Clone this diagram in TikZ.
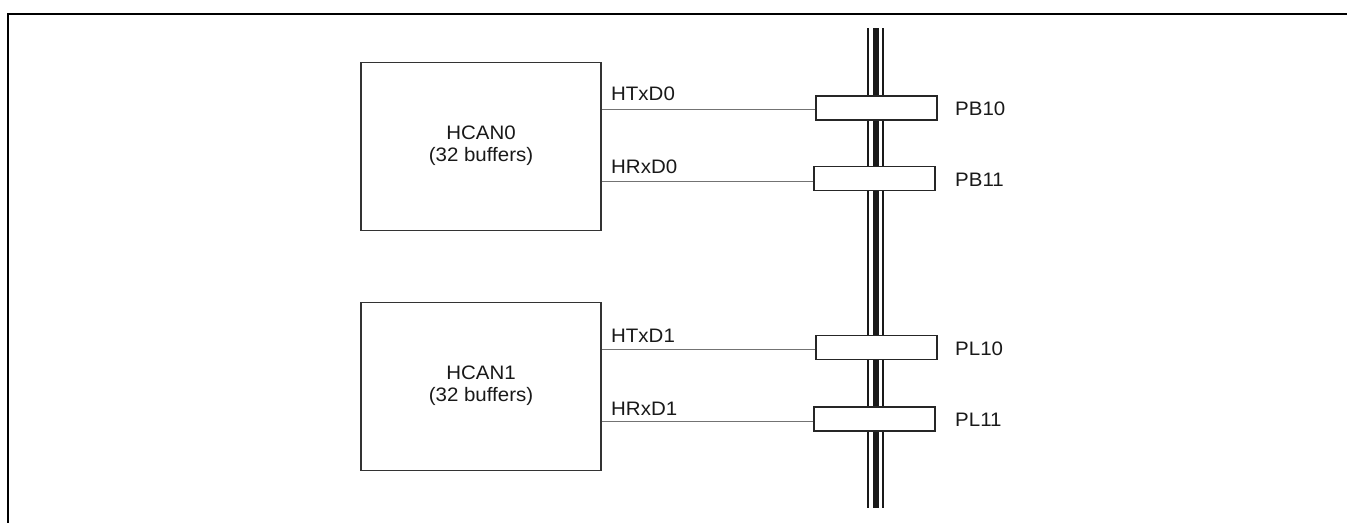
\documentclass[tikz,border=0pt]{standalone}
\usepackage{fontspec}
\setmainfont[FakeStretch=1.05]{Liberation Sans}
\begin{document}
\begin{tikzpicture}[x=1pt,y=-1pt,
  lbl/.style={font=\fontsize{19.5}{22}\selectfont, inner sep=0pt, text=black!90},
  canbox/.style={draw=black!80, line width=1.3pt, minimum width=240pt, minimum height=168pt, align=center, inner sep=0pt, font=\fontsize{19.5}{22}\selectfont, text=black!90},
  pinbox/.style={draw=black!85, fill=white, line width=1.3pt, minimum width=121pt, minimum height=24pt, inner sep=0pt},
  sig/.style={draw=black!55, line width=1pt},
  frameline/.style={line width=2pt, black}]
\useasboundingbox (0,0) rectangle (1347,523);
% frame
\coordinate (ftl) at (8,14);
\coordinate (ftr) at (1347,14);
\coordinate (fbl) at (8,523);
\draw[frameline] (ftr) -- (7,14);
\draw[frameline] (ftl) -- (fbl);
% bus
\coordinate (bt) at (875.8,28);
\coordinate (bb) at (875.8,508);
\draw[line width=1.9pt, black!90] ([xshift=-7.4pt]bt) -- ([xshift=-7.4pt]bb);
\draw[line width=6pt, black!90] (bt) -- (bb);
\draw[line width=1.9pt, black!90] ([xshift=7pt]bt) -- ([xshift=7pt]bb);
% modules
\node[canbox] (can0) at (481,146.2) {HCAN0\\(32 buffers)};
\node[canbox] (can1) at (481,386.2) {HCAN1\\(32 buffers)};
% pins
\node[pinbox] (pb10) at (876.5,108) {};
\node[pinbox] (pb11) at (874.5,178.7) {};
\node[pinbox] (pl10) at (876.5,347.7) {};
\node[pinbox] (pl11) at (874.5,419) {};
% pin labels
\node[lbl, anchor=base west] (lpb10) at (955,115) {PB10};
\node[lbl, anchor=base west] (lpb11) at (955,186.7) {PB11};
\node[lbl, anchor=base west] (lpl10) at (955,355.5) {PL10};
\node[lbl, anchor=base west] (lpl11) at (955,426.7) {PL11};
% signal coordinates
\coordinate (y0t) at (0,109.3);
\coordinate (y0r) at (0,181.7);
\coordinate (y1t) at (0,349.3);
\coordinate (y1r) at (0,421.7);
\draw[sig] (can0.east |- y0t) -- (pb10.west |- y0t);
\draw[sig] (can0.east |- y0r) -- (pb11.west |- y0r);
\draw[sig] (can1.east |- y1t) -- (pl10.west |- y1t);
\draw[sig] (can1.east |- y1r) -- (pl11.west |- y1r);
% signal labels
\node[lbl, anchor=base west] (ltx0) at (611,100.5) {HTxD0};
\node[lbl, anchor=base west] (lrx0) at (611,173) {HRxD0};
\node[lbl, anchor=base west] (ltx1) at (611,342.5) {HTxD1};
\node[lbl, anchor=base west] (lrx1) at (611,415) {HRxD1};
\end{tikzpicture}
\end{document}
